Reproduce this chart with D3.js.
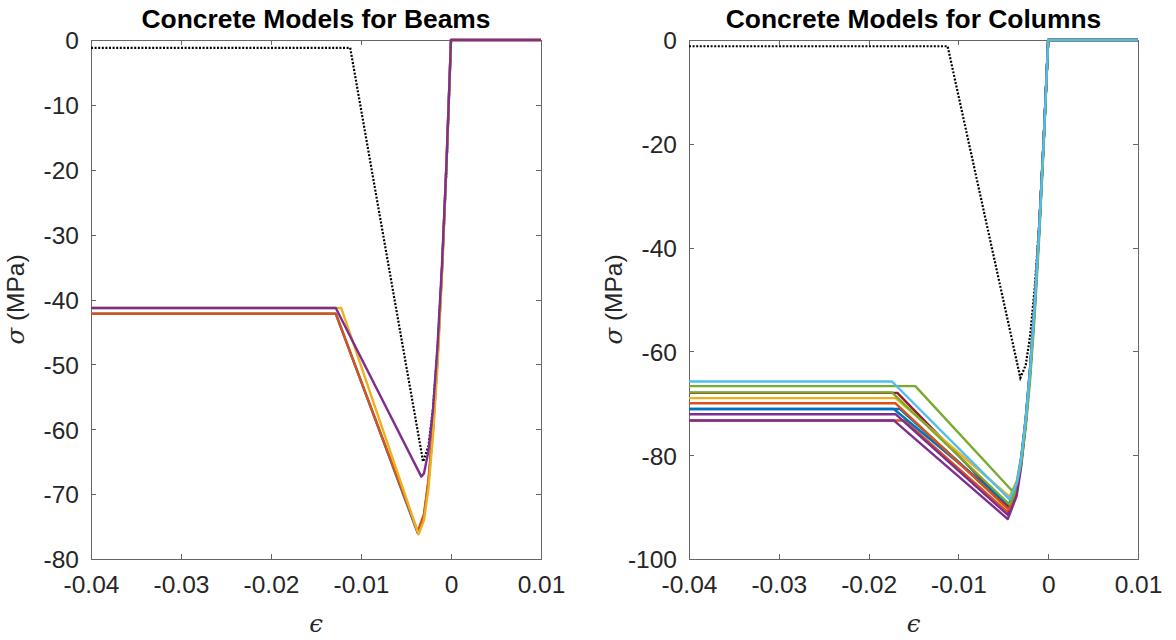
<!DOCTYPE html>
<html>
<head>
<meta charset="utf-8">
<style>
html, body { margin: 0; background: #fff; }
svg { display: block; }
.axis text { font: 24.5px "Liberation Sans", Arial, sans-serif; fill: #262626; }
.axis path, .axis line { stroke: #666; shape-rendering: crispEdges; }
.title { font: bold 26.4px "Liberation Sans", Arial, sans-serif; fill: #000; }
.lbl { font: 24.5px "Liberation Sans", Arial, sans-serif; fill: #262626; }
.sym { font-family: "DejaVu Serif", "Liberation Serif", serif; font-style: italic; }
</style>
</head>
<body>
<svg width="1176" height="640"></svg>
<script src="https://d3js.org/d3.v7.min.js"></script>
<script>
// strain ticks, shared by both plots
var xTicks = [-0.04, -0.03, -0.02, -0.01, 0, 0.01];
var beamYTicks = [0, -10, -20, -30, -40, -50, -60, -70, -80];
var colYTicks = [0, -20, -40, -60, -80, -100];

// unconfined (dotted) curves, [strain, stress MPa]
var beamUnconf = [[-0.04,-1.2],[-0.0112,-1.2],[-0.0031,-65],[-0.0025,-62.6],[-0.002,-56.8],[-0.0015,-47.7],[-0.001,-35.3],[-0.0005,-19.7],[0,0],[0.01,0]];
var colUnconf  = [[-0.04,-1.2],[-0.0112,-1.2],[-0.0031,-65.1],[-0.0025,-62.6],[-0.002,-56.8],[-0.0015,-47.7],[-0.001,-35.3],[-0.0005,-19.7],[0,0],[0.01,0]];

// confined beam models
var beamColors = ["#0072BD", "#D95319", "#EDB120", "#7E2F8E"];
var beamCurves = [
  [[-0.04,-42.2],[-0.0128,-42.2],[-0.0037,-76.0],[-0.003,-73.3],[-0.0025,-68.0],[-0.002,-60.0],[-0.0015,-49.1],[-0.001,-35.5],[-0.0005,-19.0],[0,0],[0.01,0]],
  [[-0.04,-42.2],[-0.0128,-42.2],[-0.0037,-75.8],[-0.003,-73.1],[-0.0025,-67.8],[-0.002,-59.8],[-0.0015,-49.0],[-0.001,-35.4],[-0.0005,-19.0],[0,0],[0.01,0]],
  [[-0.04,-41.3],[-0.0122,-41.3],[-0.0036,-76.2],[-0.003,-74.0],[-0.0025,-69.1],[-0.002,-61.0],[-0.0015,-50.3],[-0.001,-36.0],[-0.0005,-19.3],[0,0],[0.01,0]],
  [[-0.04,-41.3],[-0.0128,-41.3],[-0.0033,-67.3],[-0.003,-66.8],[-0.0025,-63.3],[-0.002,-56.9],[-0.0015,-47.2],[-0.001,-34.6],[-0.0005,-18.9],[0,0],[0.01,0]]
];

// confined column models
var colColors = ["#0072BD", "#D95319", "#7E2F8E", "#A2142F", "#EDB120", "#0072BD", "#D95319", "#77AC30", "#7E2F8E", "#77AC30", "#4DBEEE"];
var colCurves = [
  [[-0.04,-71.1],[-0.0165,-71.1],[-0.0044,-90.0],[-0.0035,-86.2],[-0.003,-80.8],[-0.0025,-73.3],[-0.002,-63.3],[-0.0015,-50.9],[-0.001,-36.3],[-0.0005,-19.3],[0,0],[0.01,0]],
  [[-0.04,-73.3],[-0.0160,-73.3],[-0.0045,-91.0],[-0.0035,-86.5],[-0.003,-80.9],[-0.0025,-73.0],[-0.002,-62.9],[-0.0015,-50.6],[-0.001,-35.9],[-0.0005,-19.1],[0,0],[0.01,0]],
  [[-0.04,-72.1],[-0.0170,-72.1],[-0.0045,-91.5],[-0.0035,-87.0],[-0.003,-81.3],[-0.0025,-73.4],[-0.002,-63.2],[-0.0015,-50.9],[-0.001,-36.1],[-0.0005,-19.2],[0,0],[0.01,0]],
  [[-0.04,-68.0],[-0.0168,-68.0],[-0.0044,-90.0],[-0.0035,-86.2],[-0.003,-80.8],[-0.0025,-73.3],[-0.002,-63.3],[-0.0015,-50.9],[-0.001,-36.3],[-0.0005,-19.3],[0,0],[0.01,0]],
  [[-0.04,-69.0],[-0.0170,-69.0],[-0.0043,-88.0],[-0.0035,-84.9],[-0.003,-80.1],[-0.0025,-72.6],[-0.002,-62.8],[-0.0015,-50.7],[-0.001,-36.2],[-0.0005,-19.4],[0,0],[0.01,0]],
  [[-0.04,-71.1],[-0.0172,-71.1],[-0.0044,-89.5],[-0.0035,-85.7],[-0.003,-80.4],[-0.0025,-72.9],[-0.002,-62.9],[-0.0015,-50.7],[-0.001,-36.1],[-0.0005,-19.2],[0,0],[0.01,0]],
  [[-0.04,-70.0],[-0.0170,-70.0],[-0.0044,-90.5],[-0.0035,-86.7],[-0.003,-81.3],[-0.0025,-73.7],[-0.002,-63.6],[-0.0015,-51.2],[-0.001,-36.5],[-0.0005,-19.4],[0,0],[0.01,0]],
  [[-0.04,-67.9],[-0.0174,-67.9],[-0.0043,-89.5],[-0.0035,-86.4],[-0.003,-81.4],[-0.0025,-73.8],[-0.002,-63.9],[-0.0015,-51.6],[-0.001,-36.8],[-0.0005,-19.7],[0,0],[0.01,0]],
  [[-0.04,-73.3],[-0.0172,-73.3],[-0.0045,-92.3],[-0.0035,-87.8],[-0.003,-82.1],[-0.0025,-74.0],[-0.002,-63.8],[-0.0015,-51.3],[-0.001,-36.5],[-0.0005,-19.4],[0,0],[0.01,0]],
  [[-0.04,-66.7],[-0.0148,-66.7],[-0.0040,-86.9],[-0.0035,-85.5],[-0.003,-81.5],[-0.0025,-74.6],[-0.002,-65.2],[-0.0015,-52.9],[-0.001,-38.0],[-0.0005,-20.3],[0,0],[0.01,0]],
  [[-0.04,-65.8],[-0.0174,-65.8],[-0.0043,-88.5],[-0.0035,-85.4],[-0.003,-80.5],[-0.0025,-73.0],[-0.002,-63.2],[-0.0015,-51.0],[-0.001,-36.4],[-0.0005,-19.5],[0,0],[0.01,0]]
];

var svg = d3.select("svg");

function drawPanel(p) {
  var width = p.right - p.left,
      height = p.bottom - p.top;

  var x = d3.scaleLinear().domain([-0.04, 0.01]).range([0, width]);
  var y = d3.scaleLinear().domain([p.yTicks[p.yTicks.length - 1], 0]).range([height, 0]);

  var g = svg.append("g").attr("transform", "translate(" + p.left + "," + p.top + ")");

  var line = d3.line().x(function(d) { return x(d[0]); }).y(function(d) { return y(d[1]); });

  var fmt = function(d) { return String(d); };

  // axes first so the curves sit on top of the box, like matlab
  g.append("g").attr("class", "x axis")
    .attr("transform", "translate(0," + height + ")")
    .call(d3.axisBottom(x).tickValues(xTicks).tickFormat(fmt).tickSizeInner(-5).tickSizeOuter(0).tickPadding(12));
  g.append("g").attr("class", "axis")
    .call(d3.axisTop(x).tickValues(xTicks).tickFormat("").tickSizeInner(-5).tickSizeOuter(0));
  g.append("g").attr("class", "y axis")
    .call(d3.axisLeft(y).tickValues(p.yTicks).tickFormat(fmt).tickSizeInner(-5).tickSizeOuter(0).tickPadding(12));
  g.append("g").attr("class", "axis")
    .attr("transform", "translate(" + width + ",0)")
    .call(d3.axisRight(y).tickValues(p.yTicks).tickFormat("").tickSizeInner(-5).tickSizeOuter(0));

  g.selectAll(".x.axis .tick text").attr("dy", "0.9em");
  g.selectAll(".y.axis .tick text").attr("dy", "0.36em");

  g.append("clipPath").attr("id", p.id).append("rect")
    .attr("x", 0).attr("y", -3).attr("width", width + 1).attr("height", height + 3);

  var plot = g.append("g").attr("clip-path", "url(#" + p.id + ")");

  plot.append("path")
    .datum(p.unconf)
    .attr("d", line)
    .attr("fill", "none")
    .attr("stroke", "#000")
    .attr("stroke-width", 2.2)
    .attr("stroke-dasharray", "2,1.6");

  plot.selectAll(".curve")
    .data(p.curves)
    .enter().append("path")
    .attr("class", "curve")
    .attr("d", line)
    .attr("fill", "none")
    .attr("stroke", function(d, i) { return p.colors[i]; })
    .attr("stroke-width", 2.4)
    .attr("stroke-linejoin", "round");

  g.append("text").attr("class", "title")
    .attr("x", width / 2).attr("y", -12)
    .attr("text-anchor", "middle")
    .text(p.title);

  g.append("text").attr("class", "lbl sym")
    .attr("x", width / 2).attr("y", height + 73)
    .attr("text-anchor", "middle")
    .text("\u03F5");

  var yl = g.append("text").attr("class", "lbl")
    .attr("transform", "translate(" + (-67) + "," + (height / 2) + ") rotate(-90)")
    .attr("text-anchor", "middle");
  yl.append("tspan").attr("class", "sym").text("\u03C3");
  yl.append("tspan").text(" (MPa)");
}

drawPanel({id: "clipBeam", left: 91, right: 541, top: 40, bottom: 559, yTicks: beamYTicks,
  title: "Concrete Models for Beams", unconf: beamUnconf, curves: beamCurves, colors: beamColors});
drawPanel({id: "clipCol", left: 689, right: 1138, top: 40, bottom: 559, yTicks: colYTicks,
  title: "Concrete Models for Columns", unconf: colUnconf, curves: colCurves, colors: colColors});
</script>
</body>
</html>
